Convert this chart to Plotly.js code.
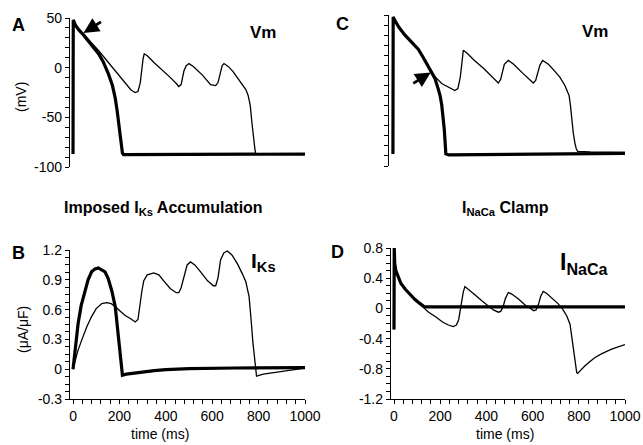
<!DOCTYPE html>
<html>
<head>
<meta charset="utf-8">
<script src="https://cdn.plot.ly/plotly-3.0.1.min.js"></script>
<style>html,body{margin:0;padding:0;background:#fff;}#chart{width:643px;height:445px;}</style>
</head>
<body>
<div id="chart"></div>
<script>
// ---------- Panel A: Vm, imposed IKs accumulation ----------
const tA_thin = [0,1,3,10,25,45,70,90,110,140,160,182,210,230,250,268,280,290,297,302,307,320,350,391,420,445,456,466,472,478,488,500,520,560,593,615,625,635,643,651,670,690,709,730,745,755,764,771,778,784,788,800,1000];
const vA_thin = [-87,48,47,43,38,34,28,22.5,17.3,9,3.5,-3.4,-11,-17,-22.5,-25,-24,-15,0,9,14,12,5,-3.4,-10,-16,-19,-17,-10,-3.4,2,4.1,1,-8,-17,-18,-15,-5,2,4.1,1,-4,-10.3,-16,-22,-28,-38,-55,-72,-82,-87,-87,-87];
const tA_thick = [0,1,3,10,25,45,70,90,110,130,153,170,182,190,196,202,208,213,218,300,600,1000];
const vA_thick = [-87,48,47,43,38,33,26,20,14,6,-6.5,-18,-30.7,-43,-55,-68,-82,-86,-87.5,-87.5,-87,-87];

// ---------- Panel B: IKs ----------
const tB_thin = [0,10,20,37,60,80,100,124,146,165,182,205,225,247,268,280,290,297,305,320,348,370,391,420,445,456,466,478,492,506,525,550,580,605,615,625,636,650,665,685,709,730,745,759,765,769,775,781,786,791,820,900,1000];
const iB_thin = [0,0.1,0.18,0.29,0.43,0.53,0.61,0.66,0.67,0.66,0.63,0.58,0.54,0.51,0.475,0.5,0.69,0.79,0.89,0.95,0.97,0.95,0.89,0.81,0.77,0.77,0.82,0.93,1.05,1.08,1.05,0.98,0.89,0.84,0.84,0.92,1.10,1.17,1.19,1.15,1.06,0.96,0.88,0.73,0.6,0.46,0.28,0.12,0.0,-0.07,-0.05,-0.02,0.01];
const tB_thick = [0,10,22,35,51,65,80,95,109,125,138,152,167,182,193,203,210,213,230,260,300,350,400,500,700,1000];
const iB_thick = [0,0.22,0.46,0.64,0.79,0.9,0.98,1.01,1.02,1.0,0.98,0.91,0.79,0.63,0.36,0.12,-0.02,-0.06,-0.05,-0.04,-0.03,-0.015,-0.005,0.005,0.012,0.015];

// ---------- Panel C: Vm, INaCa clamp ----------
const tC_thin = [0,1,3,10,25,52,80,109,130,152,170,180,210,240,267,280,290,297,303,320,350,390,420,445,454,464,472,480,497,520,560,590,605,615,625,633,645,670,698,720,741,759,765,770,777,784,790,796,850,1000];
const vC_thin = [-86,48,47,44,38,30,23,16,8,-1,-7,-11,-18,-22,-25,-23,-12,2,15,12,5,-3,-10,-16,-17.6,-14,-5,1,4.9,1,-8,-15,-17.6,-15,-7,0,4.9,1,-6,-12,-20,-30,-40,-53,-67,-77,-83,-85.5,-86,-86.5];
const tC_thick = [0,1,3,10,25,52,80,109,130,152,170,181,195,203,210,216,221,225,228,240,600,1000];
const vC_thick = [-88,48,47,44,38,30,23,16,8,-1,-8,-13,-23.4,-30,-39,-50,-63,-77,-88,-89,-88.5,-87.5];

// ---------- Panel D: INaCa ----------
const tD_thin = [0,1,3,8,15,30,50,70,90,110,130,150,180,210,235,257,270,280,287,293,300,307,320,350,380,408,430,452,462,472,482,495,510,540,570,596,605,615,625,635,646,660,690,711,730,748,762,770,776,784,791,795,810,827,850,870,900,942,1000];
const iD_thin = [-0.28,0.8,0.6,0.5,0.44,0.33,0.25,0.18,0.12,0.06,0.0,-0.05,-0.11,-0.18,-0.22,-0.24,-0.22,-0.15,-0.02,0.10,0.22,0.29,0.26,0.18,0.1,0.035,-0.02,-0.05,-0.04,0.02,0.13,0.21,0.19,0.12,0.04,-0.01,-0.03,-0.02,0.05,0.16,0.225,0.2,0.12,0.06,-0.01,-0.1,-0.21,-0.4,-0.56,-0.75,-0.85,-0.86,-0.81,-0.76,-0.70,-0.65,-0.60,-0.54,-0.48];
const tD_thick = [0,1,3,8,15,30,50,70,90,110,130,140,1000];
const iD_thick = [-0.28,0.8,0.6,0.5,0.44,0.33,0.25,0.18,0.12,0.07,0.025,0.02,0.02];

// ---------- Tick labels ----------
const vmTicks = [50,0,-50,-100];
const vmTickText = ['50','0','-50','-100'];
const iksTicks = [1.2,0.9,0.6,0.3,0,-0.3];
const iksTickText = ['1.2','0.9','0.6','0.3','0','-0.3'];
const inacaTicks = [0.8,0.4,0,-0.4,-0.8,-1.2];
const inacaTickText = ['0.8','0.4','0','-0.4','-0.8','-1.2'];
const timeTicks = [0,200,400,600,800,1000];
const timeTickText = ['0','200','400','600','800','1000'];

const W = 643, H = 445;
const fx = p => p / W;
const fy = p => 1 - p / H;
const thin = {color:'#000', width:1.3};
const thick = {color:'#000', width:3.2};
const FONT = 'Liberation Sans, Arial, Helvetica, sans-serif';

// all tick positions (labelled + small unlabelled ones) from lo to hi at a given step
function tickSet(lo, hi, step, majors, majorText){
  const vals = [], text = [];
  const n = Math.round((hi - lo) / step);
  for(let i = 0; i <= n; i++){
    const v = +(lo + i * step).toFixed(6);
    const k = majors.findIndex(m => Math.abs(m - v) < 1e-6);
    vals.push(v);
    text.push(k >= 0 ? majorText[k] : '');
  }
  return {vals, text};
}

const traces = [
  {x:tA_thin, y:vA_thin, xaxis:'x', yaxis:'y', mode:'lines', line:thin},
  {x:tA_thick, y:vA_thick, xaxis:'x', yaxis:'y', mode:'lines', line:thick},
  {x:tB_thin, y:iB_thin, xaxis:'x2', yaxis:'y2', mode:'lines', line:thin},
  {x:tB_thick, y:iB_thick, xaxis:'x2', yaxis:'y2', mode:'lines', line:thick},
  {x:tC_thin, y:vC_thin, xaxis:'x3', yaxis:'y3', mode:'lines', line:thin},
  {x:tC_thick, y:vC_thick, xaxis:'x3', yaxis:'y3', mode:'lines', line:thick},
  {x:tD_thin, y:iD_thin, xaxis:'x4', yaxis:'y4', mode:'lines', line:thin},
  {x:tD_thick, y:iD_thick, xaxis:'x4', yaxis:'y4', mode:'lines', line:thick}
];

function yax(dom, range, ts, showLabels, anchor){
  return {domain:dom, range:range, anchor:anchor, showgrid:false, zeroline:false,
    showline:true, linecolor:'#000', linewidth:1.2, ticks:'outside', ticklen:4, tickwidth:1, tickcolor:'#000',
    tickmode:'array', tickvals:ts.vals, ticktext:ts.text, showticklabels:showLabels,
    tickfont:{family:FONT, size:14, color:'#000'}};
}
function xax(dom, range, visible, anchor){
  if(!visible) return {domain:dom, range:range, anchor:anchor, visible:false, showgrid:false, zeroline:false};
  const ts = tickSet(0, 1000, 40, timeTicks, timeTickText);
  return {domain:dom, range:range, anchor:anchor, showgrid:false, zeroline:false,
    showline:true, linecolor:'#000', linewidth:1.2, ticks:'outside', ticklen:4, tickwidth:1, tickcolor:'#000',
    tickmode:'array', tickvals:ts.vals, ticktext:ts.text,
    tickfont:{family:FONT, size:14, color:'#000'}};
}

function txt(x, y, text, size, extra){
  return Object.assign({xref:'paper', yref:'paper', x:fx(x), y:fy(y), text:text, showarrow:false,
    xanchor:'center', yanchor:'middle', font:{family:FONT, size:size, color:'#000'}}, extra||{});
}

const annotations = [
  txt(18, 25, '<b>A</b>', 18),
  txt(18, 253, '<b>B</b>', 18),
  txt(342, 24, '<b>C</b>', 18),
  txt(337, 252, '<b>D</b>', 18),
  txt(263, 32, '<b>Vm</b>', 17),
  txt(595, 31, '<b>Vm</b>', 17),
  txt(263, 262, '<b>I<sub>Ks</sub></b>', 21),
  txt(584, 263, '<b>I<sub>NaCa</sub></b>', 23),
  txt(163, 208, '<b>Imposed I<sub>Ks</sub> Accumulation</b>', 16),
  txt(505, 208, '<b>I<sub>NaCa</sub> Clamp</b>', 16),
  txt(21, 97, '(mV)', 14, {textangle:-90}),
  txt(23, 330, '(\u03BCA/\u03BCF)', 14, {textangle:-90}),
  txt(160, 434, 'time (ms)', 14),
  txt(505, 434, 'time (ms)', 14),
  {xref:'x', yref:'y', x:45, y:35, ax:19, ay:-12, text:'', showarrow:true,
   arrowhead:2, arrowsize:1.1, arrowwidth:2.8, arrowcolor:'#000'},
  {xref:'x3', yref:'y3', x:163, y:-7, ax:-19, ay:12, text:'', showarrow:true,
   arrowhead:2, arrowsize:1.1, arrowwidth:2.8, arrowcolor:'#000'}
];

const layout = {
  width:W, height:H, autosize:false, showlegend:false,
  margin:{l:0, r:0, t:0, b:0, pad:0},
  paper_bgcolor:'#fff', plot_bgcolor:'rgba(0,0,0,0)',
  xaxis: xax([fx(70), fx(305)], [-13, 1000], false, 'y'),
  yaxis: yax([fy(167), fy(18)], [-100, 50], tickSet(-100, 50, 10, vmTicks, vmTickText), true, 'x'),
  xaxis2: xax([fx(70), fx(305)], [-13, 1000], true, 'y2'),
  yaxis2: yax([fy(399), fy(250)], [-0.3, 1.2], tickSet(-0.3, 1.2, 0.075, iksTicks, iksTickText), true, 'x2'),
  xaxis3: xax([fx(389), fx(625)], [-17, 1000], false, 'y3'),
  yaxis3: yax([fy(166), fy(15)], [-100, 50], tickSet(-100, 50, 10, vmTicks, vmTickText), false, 'x3'),
  xaxis4: xax([fx(391), fx(625)], [-13, 1000], true, 'y4'),
  yaxis4: yax([fy(399), fy(248)], [-1.2, 0.8], tickSet(-1.2, 0.8, 0.1, inacaTicks, inacaTickText), true, 'x4'),
  annotations: annotations
};

Plotly.newPlot('chart', traces, layout, {displayModeBar:false, staticPlot:true});
</script>
</body>
</html>
